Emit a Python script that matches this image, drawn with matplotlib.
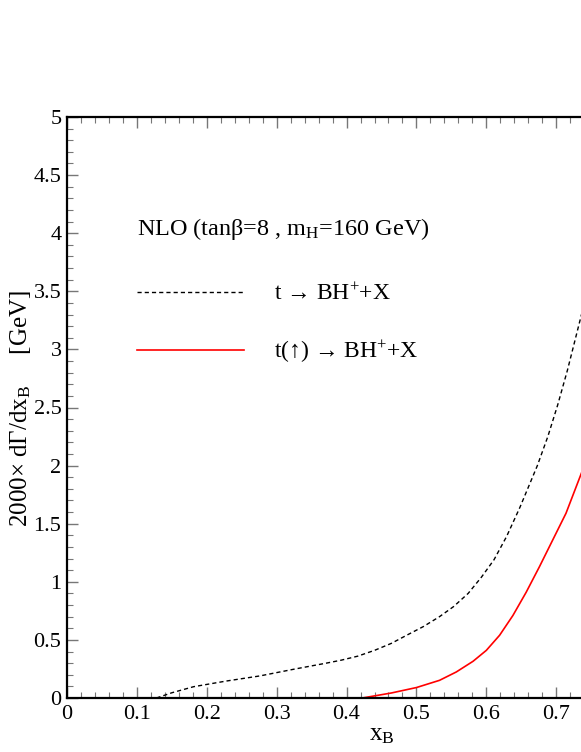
import numpy as np
import matplotlib
matplotlib.use("Agg")
import matplotlib.pyplot as plt
from matplotlib.ticker import MultipleLocator, FuncFormatter

plt.rcParams['font.family'] = ['Liberation Serif', 'DejaVu Sans']
plt.rcParams['mathtext.fontset'] = 'custom'
plt.rcParams['mathtext.rm'] = 'Liberation Serif'
plt.rcParams['mathtext.it'] = 'Liberation Serif:italic'

# values
xb_unpol = [0.128, 0.15, 0.181, 0.228, 0.276, 0.324, 0.371, 0.392, 0.416, 0.44,
            0.464, 0.486, 0.51, 0.533, 0.553, 0.574, 0.593, 0.611, 0.629, 0.648,
            0.673, 0.688, 0.702, 0.716, 0.737]
dg_unpol = [0.0, 0.045, 0.097, 0.146, 0.19, 0.247, 0.30, 0.325, 0.36, 0.41,
            0.47, 0.54, 0.615, 0.70, 0.786, 0.90, 1.04, 1.19, 1.39, 1.64,
            2.0, 2.25, 2.52, 2.82, 3.32]

xb_pol = [0.4225, 0.464, 0.5, 0.533, 0.557, 0.581, 0.6, 0.619, 0.638, 0.657,
          0.676, 0.695, 0.714, 0.737]
dg_pol = [0.0, 0.043, 0.09, 0.152, 0.224, 0.316, 0.41, 0.54, 0.71, 0.91,
          1.13, 1.36, 1.59, 1.95]

labels = [r't → BH$^{+}$+X', r't(↑) → BH$^{+}$+X']
title = r'NLO (tanβ=8 , m$_{\mathrm{H}}$=160 GeV)'

fig = plt.figure(figsize=(5.81, 7.52), dpi=100)
ax = fig.add_axes([67/581, 54/752, 629/581, 581/752])

ax.plot(xb_unpol, dg_unpol, color='black', lw=1.0, dashes=(3, 2.2), label=labels[0])
ax.plot(xb_pol, dg_pol, color='red', lw=1.2, label=labels[1])

ax.set_xlim(0, 0.9)
ax.set_ylim(0, 5)

ax.xaxis.set_major_locator(MultipleLocator(0.1))
ax.xaxis.set_minor_locator(MultipleLocator(0.02))
ax.yaxis.set_major_locator(MultipleLocator(0.5))
ax.yaxis.set_minor_locator(MultipleLocator(0.1))
# labels past the image edge are left out
ax.xaxis.set_major_formatter(FuncFormatter(lambda v, p: '%g' % round(v, 2) if v < 0.75 else ''))
ax.yaxis.set_major_formatter(FuncFormatter(lambda v, p: '%g' % round(v, 2)))

ax.tick_params(which='both', direction='in', top=True, right=True,
               color='#777777', labelsize=16)
ax.tick_params(which='major', length=8, width=1)
ax.tick_params(which='minor', length=4, width=0.8)
ax.tick_params(axis='y', pad=4)
ax.tick_params(axis='x', pad=5)
for s in ax.spines.values():
    s.set_linewidth(1.6)

ax.set_xlabel(r'x$_{\mathrm{B}}$', fontsize=18, labelpad=0)
fig.text(21/581, 1 - 408/752, r'2000× dΓ/dx$_{\mathrm{B}}$     [GeV]',
         rotation=90, fontsize=18, ha='center', va='center')

leg = ax.legend(loc='upper left', bbox_to_anchor=(116/581, 1 - 195/752),
                bbox_transform=fig.transFigure, frameon=False, fontsize=17,
                title=title, title_fontsize=17.5, alignment='left',
                handlelength=4.5, handletextpad=1.3, labelspacing=1.4)
leg._legend_box.sep = 30

fig.savefig('out.png', dpi=100)
